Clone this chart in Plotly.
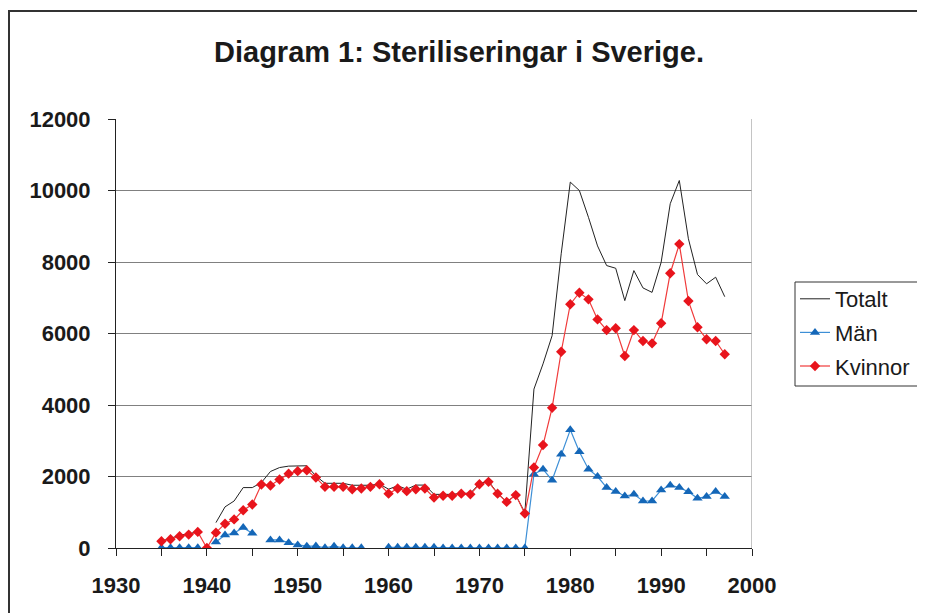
import plotly.graph_objects as go

years = list(range(1935, 1998))

totalt = [200, 260, 370, 380, 480, None, 710, 1150, 1315, 1690, 1690, 1830, 2140, 2250, 2290, 2300,
          2300, 2015, 1810, 1810, 1810, 1755, 1755, 1755, 1790, 1645, 1740, 1645, 1760, 1760, 1500,
          1500, 1500, 1530, 1530, 1800, 1870, 1530, 1290, 1480, 990, 4445, 5150, 5940, 8230, 10235,
          10000, 9250, 8450, 7900, 7825, 6920, 7760, 7275, 7150, 7990, 9630, 10280, 8650, 7650, 7390,
          7575, 7030]

man = [10, 10, 10, 10, 10, None, 170, 365, 420, 570, 410, None, 225, 225, 150, 85,
       50, 55, 5, 50, 5, 5, 5, None, None, 20, 20, 20, 20, 20, 20,
       0, 0, 0, 0, 0, 0, 0, 0, 0, 0, 2065, 2205, 1895, 2625, 3305,
       2690, 2205, 2000, 1690, 1580, 1455, 1500, 1315, 1315, 1625, 1755, 1690, 1570, 1390, 1440,
       1580, 1440]

kvinnor = [190, 245, 330, 375, 450, 0, 430, 680, 800, 1055, 1215, 1775, 1750, 1915, 2080, 2150,
           2175, 1970, 1710, 1710, 1710, 1645, 1665, 1710, 1785, 1520, 1665, 1590, 1645, 1665, 1410,
           1460, 1460, 1520, 1500, 1785, 1850, 1520, 1290, 1480, 965, 2250, 2880, 3920, 5490, 6820,
           7140, 6955, 6395, 6095, 6145, 5370, 6095, 5790, 5725, 6285, 7685, 8500, 6910, 6175, 5840,
           5790, 5420]

title_text = "Diagram 1: Steriliseringar i Sverige."
x_ticks = [1930, 1940, 1950, 1960, 1970, 1980, 1990, 2000]
y_ticks = [0, 2000, 4000, 6000, 8000, 10000, 12000]
y_labels = ["0", "2000", "4000", "6000", "8000", "10000", "12000"]

fig = go.Figure()
fig.add_trace(go.Scatter(x=years, y=totalt, name="Totalt", mode="lines",
                         line=dict(color="#222222", width=1), legendgroup="a"))
fig.add_trace(go.Scatter(x=years, y=man, name="Män", mode="lines+markers",
                         line=dict(color="#3d8fd6", width=1.2),
                         marker=dict(symbol="triangle-up", size=9, color="#1467b8"),
                         legendgroup="b"))
fig.add_trace(go.Scatter(x=years, y=kvinnor, name="Kvinnor", mode="lines+markers",
                         line=dict(color="#f03a3a", width=1.2),
                         marker=dict(symbol="diamond", size=8, color="#e8141c"),
                         legendgroup="c"))

tickfont = dict(family="Liberation Sans, Arial, sans-serif", size=22, color="#1a1a1a", weight="bold")

# figure is drawn inside the page's 8px body margin
W, H = 917, 605
L, T, PW, PH = 108, 111, 636, 429

fig.update_layout(
    width=W, height=H,
    margin=dict(l=L, r=W - L - PW, t=T, b=H - T - PH, autoexpand=False),
    paper_bgcolor="white", plot_bgcolor="white",
    title=dict(text=title_text, x=451 / W, xref="container", xanchor="center",
               y=1 - 44 / H, yref="container", yanchor="middle",
               font=dict(family="Liberation Sans, Arial, sans-serif", size=29,
                         color="#1a1a1a", weight="bold")),
    xaxis=dict(range=[1930, 2000], tickvals=x_ticks, showgrid=False, zeroline=False,
               showline=True, linecolor="#222222", linewidth=1, automargin=False,
               ticks="outside", ticklen=7, tickcolor="#222222",
               minor=dict(dtick=5, tick0=1930, ticks="outside", ticklen=7, tickcolor="#222222"),
               tickfont=tickfont, ticklabelstandoff=11),
    yaxis=dict(range=[0, 12000], tickvals=y_ticks, ticktext=y_labels,
               showgrid=True, gridcolor="#808080", gridwidth=1, automargin=False,
               zeroline=False, showline=True, linecolor="#222222", linewidth=1,
               ticks="outside", ticklen=7, tickcolor="#222222",
               tickfont=tickfont, ticklabelstandoff=13),
    legend=dict(x=(787 - L) / PW, y=(T + PH - 270) / PH, xanchor="left", yanchor="top",
                borderwidth=0, bgcolor="rgba(0,0,0,0)",
                font=dict(family="Liberation Sans, Arial, sans-serif", size=22, color="#1a1a1a"),
                tracegroupgap=2, traceorder="grouped", itemwidth=30),
    showlegend=True,
)

# plot-area right border
fig.add_shape(type="line", xref="x", yref="paper", x0=2000, x1=2000, y0=0, y1=1,
              line=dict(color="#b0b0b0", width=1.5))
# legend frame (runs past the right edge, as in the original)
fig.add_shape(type="rect", xref="paper", yref="paper",
              x0=(787 - L) / PW, x1=(935 - L) / PW,
              y0=(T + PH - 378) / PH, y1=(T + PH - 274) / PH,
              line=dict(color="#333333", width=1), fillcolor="white", layer="above")
# outer chart frame
fig.add_shape(type="rect", xref="paper", yref="paper",
              x0=(1 - L) / PW, x1=(930 - L) / PW,
              y0=(T + PH - 620) / PH, y1=(T + PH - 3) / PH,
              line=dict(color="#333333", width=2), layer="below")

fig.write_html("out.html")
